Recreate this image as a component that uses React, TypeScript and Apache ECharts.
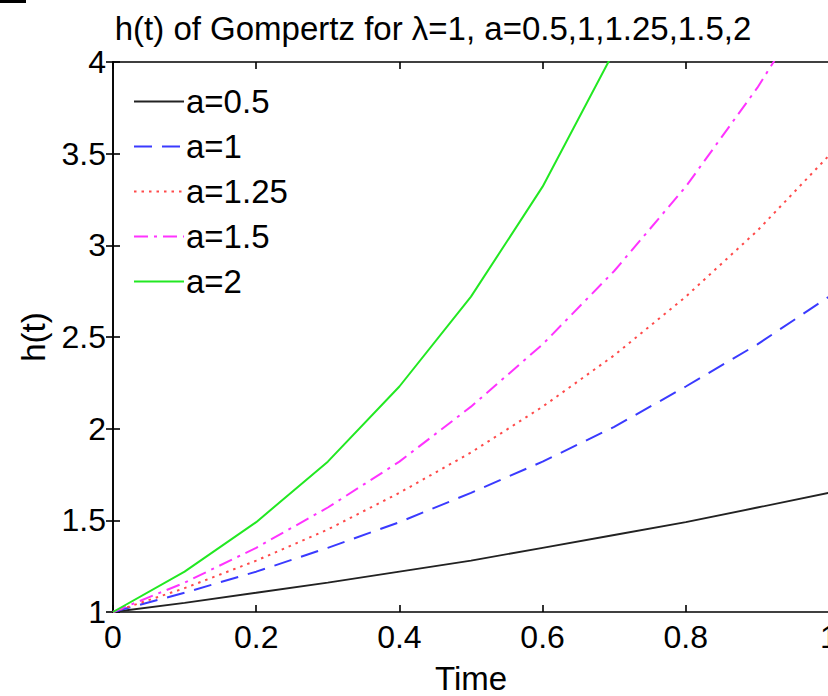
import React, { useEffect, useRef } from "react";
import * as echarts from "echarts";

const timeValues = [0, 0.1, 0.2, 0.3, 0.4, 0.5, 0.6, 0.7, 0.8, 0.9, 1.0];
const seriesNames = ["a=0.5", "a=1", "a=1.25", "a=1.5", "a=2"];
const hA05 = [1, 1.05, 1.105, 1.16, 1.22, 1.28, 1.35, 1.42, 1.49, 1.57, 1.65];
const hA1 = [1, 1.105, 1.22, 1.35, 1.49, 1.65, 1.82, 2.01, 2.23, 2.46, 2.72];
const hA125 = [1, 1.13, 1.28, 1.45, 1.65, 1.87, 2.12, 2.4, 2.72, 3.08, 3.49];
const hA15 = [1, 1.16, 1.35, 1.57, 1.82, 2.12, 2.46, 2.86, 3.32, 3.86, 4.48];
const hA2 = [1, 1.22, 1.49, 1.82, 2.23, 2.72, 3.32, 4.06, 4.95, 6.05, 7.39];
const xTicks = [0, 0.2, 0.4, 0.6, 0.8, 1];
const yTicks = [1, 1.5, 2, 2.5, 3, 3.5, 4];
const titleText = "h(t) of Gompertz for \u03bb=1, a=0.5,1,1.25,1.5,2";

const FONT = "'Liberation Sans', Arial, Helvetica, sans-serif";

export default function App() {
  const ref = useRef<HTMLDivElement>(null);
  useEffect(() => {
    if (!ref.current) return;
    const chart = echarts.init(ref.current, undefined, { renderer: "svg" });
    const allValues = [hA05, hA1, hA125, hA15, hA2];
    const styles = [
      { color: "#222222", type: "solid" as any, width: 1.8 },
      { color: "#3a3aff", type: [18, 10] as any, width: 2 },
      { color: "#ff4a4a", type: [2.5, 5] as any, width: 2 },
      { color: "#ff33ff", type: [14, 6, 3, 6] as any, width: 2 },
      { color: "#22e822", type: "solid" as any, width: 2 },
    ];
    const axisCommon = {
      type: "value" as const,
      axisLine: { show: true, lineStyle: { color: "#000", width: 1.6 } },
      axisTick: { show: true, inside: true, length: 7, lineStyle: { color: "#000", width: 1.6 } },
      splitLine: { show: false },
    };
    chart.setOption({
      animation: false,
      backgroundColor: "#ffffff",
      title: {
        text: titleText,
        left: 428,
        textAlign: "center",
        top: 7,
        textStyle: { fontFamily: FONT, fontSize: 33, fontWeight: "normal", color: "#000" },
      },
      graphic: [
        { type: "rect", shape: { x: 0, y: 0, width: 26, height: 3 }, style: { fill: "#000" } },
      ],
      legend: {
        orient: "vertical",
        left: 128,
        top: 80,
        itemWidth: 50,
        itemHeight: 14,
        itemGap: 12,
        data: seriesNames,
        itemStyle: { opacity: 0 },
        textStyle: { fontFamily: FONT, fontSize: 33, color: "#000", lineHeight: 32, padding: [0, 0, 0, -3] },
      },
      grid: { left: 113, top: 62, width: 716, height: 550, outerBoundsMode: "none", containLabel: false },
      xAxis: [
        {
          ...axisCommon,
          min: 0,
          max: 1,
          interval: 0.2,
          name: "Time",
          nameLocation: "middle",
          nameGap: 50,
          nameTextStyle: { fontFamily: FONT, fontSize: 33, color: "#000" },
          axisLabel: {
            fontFamily: FONT,
            fontSize: 32,
            color: "#000",
            margin: 9,
            formatter: (v: number) => (xTicks.includes(Math.round(v * 10) / 10) ? String(Math.round(v * 10) / 10) : ""),
          },
        },
        {
          ...axisCommon,
          position: "top",
          min: 0,
          max: 1,
          interval: 0.2,
          axisLabel: { show: false },
        },
      ],
      yAxis: [
        {
          ...axisCommon,
          min: 1,
          max: 4,
          interval: 0.5,
          name: "h(t)",
          nameLocation: "middle",
          nameGap: 63,
          nameTextStyle: { fontFamily: FONT, fontSize: 33, color: "#000" },
          axisLabel: {
            fontFamily: FONT,
            fontSize: 32,
            color: "#000",
            margin: 7,
            formatter: (v: number) => (yTicks.includes(Math.round(v * 10) / 10) ? String(Math.round(v * 10) / 10) : ""),
          },
        },
        {
          ...axisCommon,
          position: "right",
          min: 1,
          max: 4,
          interval: 0.5,
          axisLabel: { show: false },
        },
      ],
      series: seriesNames.map((name, i) => ({
        name,
        type: "line",
        xAxisIndex: 0,
        yAxisIndex: 0,
        symbol: "none",
        showSymbol: false,
        clip: true,
        data: timeValues.map((t, j) => [t, allValues[i][j]]),
        lineStyle: styles[i],
        itemStyle: { color: styles[i].color },
        color: styles[i].color,
      })),
    });
    return () => chart.dispose();
  }, []);
  return (
    <div
      ref={ref}
      style={{ position: "fixed", left: 0, top: 0, width: 828, height: 696, background: "#fff" }}
    />
  );
}
